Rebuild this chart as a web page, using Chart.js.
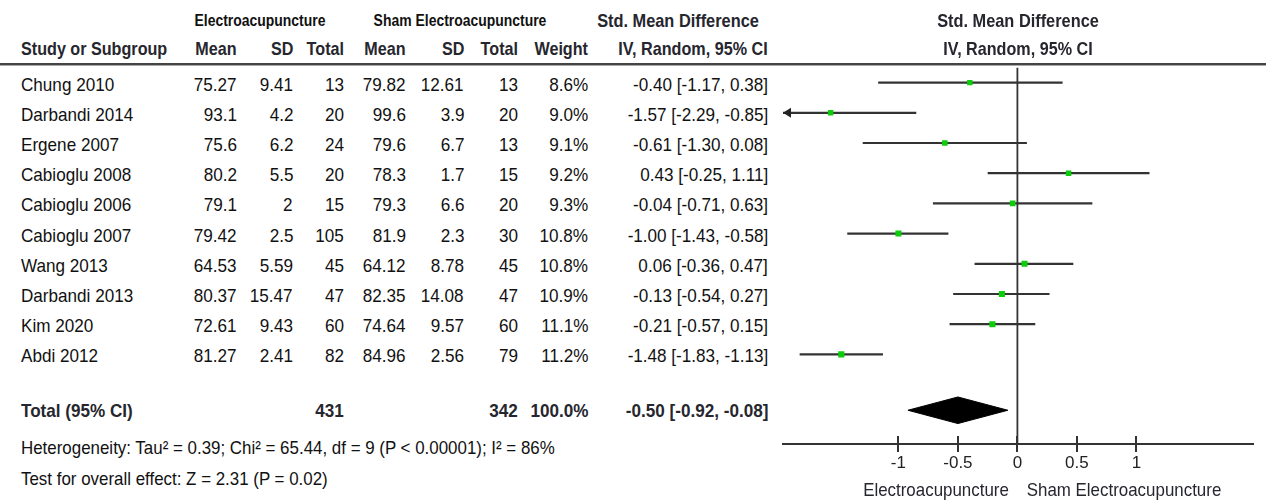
<!DOCTYPE html>
<html>
<head>
<meta charset="utf-8">
<script src="https://cdn.jsdelivr.net/npm/chart.js@4.4.0/dist/chart.umd.min.js"></script>
<style>
body{margin:0;background:#fff;}
#wrap{position:relative;width:1266px;height:500px;overflow:hidden;font-family:"Liberation Sans Narrow","Liberation Sans",Arial,sans-serif;color:#111;}
.t{position:absolute;white-space:nowrap;line-height:20px;height:20px;font-size:19px;}
.b{font-weight:bold;}
.hd{color:#26262e;}
#plot{position:absolute;left:770px;top:0;}
.hline{position:absolute;left:0;top:63px;width:1266px;height:2px;background:#444;border-bottom:1px solid #aaa;}
</style>
</head>
<body>
<div id="wrap">
  <div class="hline"></div>
  <canvas id="plot" width="496" height="500"></canvas>
</div>
<script>
// study data
var studies = ['Chung 2010','Darbandi 2014','Ergene 2007','Cabioglu 2008','Cabioglu 2006','Cabioglu 2007','Wang 2013','Darbandi 2013','Kim 2020','Abdi 2012']
var eMean = [75.27,93.1,75.6,80.2,79.1,79.42,64.53,80.37,72.61,81.27]
var eSD = [9.41,4.2,6.2,5.5,2,2.5,5.59,15.47,9.43,2.41]
var eTotal = [13,20,24,20,15,105,45,47,60,82]
var cMean = [79.82,99.6,79.6,78.3,79.3,81.9,64.12,82.35,74.64,84.96]
var cSD = [12.61,3.9,6.7,1.7,6.6,2.3,8.78,14.08,9.57,2.56]
var cTotal = [13,20,13,15,20,30,45,47,60,79]
var weight = [8.6,9.0,9.1,9.2,9.3,10.8,10.8,10.9,11.1,11.2]
var smd = [-0.40,-1.57,-0.61,0.43,-0.04,-1.00,0.06,-0.13,-0.21,-1.48]
var ciLow = [-1.17,-2.29,-1.30,-0.25,-0.71,-1.43,-0.36,-0.54,-0.57,-1.83]
var ciHigh = [0.38,-0.85,0.08,1.11,0.63,-0.58,0.47,0.27,0.15,-1.13]

// pooled result
var totalE = 431
var totalC = 342
var totalWeight = 100.0
var pooled = -0.50
var pooledLow = -0.92
var pooledHigh = -0.08
var totalRow = 10.85

var tickVals = [-1,-0.5,0,0.5,1]
var tickLabels = ['-1','-0.5','0','0.5','1']

Chart.defaults.font.family = '"Liberation Sans",Arial,sans-serif'

var wrap = document.getElementById('wrap')
function put(txt, x, y, align, cls, size, sx){
    var d = document.createElement('div')
    d.className = 't ' + (cls || '')
    d.textContent = txt
    if(size){ d.style.fontSize = size + 'px' }
    sx = sx || 0.9
    d.style.top = (y - 10) + 'px'
    if(align == 'r'){
        d.style.right = (1266 - x) + 'px'
        d.style.transformOrigin = 'right center'
        d.style.transform = 'scaleX(' + sx + ')'
    } else if(align == 'c'){
        d.style.left = x + 'px'
        d.style.transformOrigin = 'center center'
        d.style.transform = 'translateX(-50%) scaleX(' + sx + ')'
    } else {
        d.style.left = x + 'px'
        d.style.transformOrigin = 'left center'
        d.style.transform = 'scaleX(' + sx + ')'
    }
    wrap.appendChild(d)
}
function ci(m, l, h){
    return m.toFixed(2) + ' [' + l.toFixed(2) + ', ' + h.toFixed(2) + ']'
}

// arrow for CIs running off the left edge + tick marks above the axis
var extras = {
    id: 'extras',
    afterDatasetsDraw: function(chart){
        var ctx = chart.ctx, x = chart.scales.x, y = chart.scales.y
        ctx.save()
        ctx.fillStyle = '#222'
        for(var i=0;i<studies.length;i++){
            if(ciLow[i] < x.min){
                var py = y.getPixelForValue(i)
                ctx.beginPath()
                ctx.moveTo(x.left, py)
                ctx.lineTo(x.left + 8, py - 5)
                ctx.lineTo(x.left + 8, py + 5)
                ctx.closePath()
                ctx.fill()
            }
        }
        ctx.strokeStyle = '#333'
        ctx.lineWidth = 2
        for(var k=0;k<tickVals.length;k++){
            var px = Math.round(x.getPixelForValue(tickVals[k]))
            ctx.beginPath()
            ctx.moveTo(px, chart.chartArea.bottom - 8)
            ctx.lineTo(px, chart.chartArea.bottom)
            ctx.stroke()
        }
        ctx.restore()
    }
}

var datasets = []
datasets.push({
    type: 'scatter',
    data: smd.map(function(v,i){ return {x:v, y:i} }),
    pointStyle: 'rect',
    pointRadius: weight.map(function(w){ return Math.sqrt(w) * 1.3 }),
    backgroundColor: '#0ccc0c',
    borderWidth: 0
})
datasets.push({
    type: 'line',
    data: [{x:pooledLow,y:totalRow},{x:pooled,y:totalRow-0.44},{x:pooledHigh,y:totalRow},{x:pooled,y:totalRow+0.44},{x:pooledLow,y:totalRow}],
    borderColor: '#000',
    backgroundColor: '#000',
    borderWidth: 1,
    pointRadius: 0,
    fill: 'shape'
})
for(var i=0;i<studies.length;i++){
    datasets.push({
        type: 'line',
        data: [{x:ciLow[i],y:i},{x:ciHigh[i],y:i}],
        borderColor: '#333',
        borderWidth: 2.2,
        pointRadius: 0
    })
}
datasets.push({
    type: 'line',
    data: [{x:0,y:-0.49},{x:0,y:11.967}],
    borderColor: '#333',
    borderWidth: 1.8,
    pointRadius: 0
})

var chart = new Chart('plot', {
    type: 'scatter',
    data: {datasets: datasets},
    options: {
        responsive: false,
        animation: false,
        devicePixelRatio: 1,
        layout: {padding: {left: 13, right: 13, top: 0, bottom: 0}},
        plugins: {legend: {display: false}, tooltip: {enabled: false}},
        scales: {
            x: {
                type: 'linear',
                min: -1.97,
                max: 1.98,
                afterFit: function(s){ s.height = 56 },
                afterBuildTicks: function(s){ s.ticks = tickVals.map(function(v){ return {value: v} }) },
                ticks: {
                    font: {size: 17},
                    color: '#222',
                    padding: 1,
                    autoSkip: false,
                    maxRotation: 0,
                    callback: function(v){ return tickLabels[tickVals.indexOf(v)] }
                },
                grid: {drawOnChartArea: false, tickLength: 8, color: '#333', lineWidth: 2},
                border: {display: true, color: '#333', width: 2}
            },
            y: {
                type: 'linear',
                reverse: true,
                min: -2.59,
                max: 11.967,
                display: false
            }
        }
    },
    plugins: [extras]
})

// table text, rows placed with the chart's own y scale
var ys = chart.scales.y
var colE = [237, 293, 344], colC = [406, 464, 518], colW = 588, colCI = 768

put('Electroacupuncture', 260, 21, 'c', 'b', 17, 0.82)
put('Sham Electroacupuncture', 460, 21, 'c', 'b', 17, 0.82)
put('Std. Mean Difference', 678, 21, 'c', 'b hd', 19, 0.86)
put('Std. Mean Difference', 1018, 21, 'c', 'b hd', 19, 0.86)
var hy = 49
put('Study or Subgroup', 21, hy, 'l', 'b hd', 19, 0.85)
put('Mean', colE[0], hy, 'r', 'b hd', 19, 0.85)
put('SD', colE[1], hy, 'r', 'b hd', 19, 0.85)
put('Total', colE[2], hy, 'r', 'b hd', 19, 0.85)
put('Mean', colC[0], hy, 'r', 'b hd', 19, 0.85)
put('SD', colC[1], hy, 'r', 'b hd', 19, 0.85)
put('Total', colC[2], hy, 'r', 'b hd', 19, 0.85)
put('Weight', colW, hy, 'r', 'b hd', 19, 0.85)
put('IV, Random, 95% CI', colCI, hy, 'r', 'b hd', 19, 0.85)
put('IV, Random, 95% CI', 1018, hy, 'c', 'b hd', 19, 0.85)

for(var i=0;i<studies.length;i++){
    var y = ys.getPixelForValue(i) + 2
    put(studies[i], 21, y, 'l')
    put(String(eMean[i]), colE[0], y, 'r')
    put(String(eSD[i]), colE[1], y, 'r')
    put(String(eTotal[i]), colE[2], y, 'r')
    put(String(cMean[i]), colC[0], y, 'r')
    put(String(cSD[i]), colC[1], y, 'r')
    put(String(cTotal[i]), colC[2], y, 'r')
    put(weight[i].toFixed(1) + '%', colW, y, 'r')
    put(ci(smd[i], ciLow[i], ciHigh[i]), colCI, y, 'r')
}
var ty = ys.getPixelForValue(totalRow) + 1
put('Total (95% CI)', 21, ty, 'l', 'b hd', 19, 0.9)
put(String(totalE), colE[2], ty, 'r', 'b hd', 19, 0.9)
put(String(totalC), colC[2], ty, 'r', 'b hd', 19, 0.9)
put(totalWeight.toFixed(1) + '%', colW, ty, 'r', 'b hd', 19, 0.9)
put(ci(pooled, pooledLow, pooledHigh), colCI, ty, 'r', 'b hd', 19, 0.9)
put('Heterogeneity: Tau\u00b2 = 0.39; Chi\u00b2 = 65.44, df = 9 (P < 0.00001); I\u00b2 = 86%', 21, 448, 'l', '', 19, 0.89)
put('Test for overall effect: Z = 2.31 (P = 0.02)', 21, 479, 'l', '', 19, 0.89)
put('Electroacupuncture', 936, 490, 'c', 'hd', 19, 0.89)
put('Sham Electroacupuncture', 1124, 490, 'c', 'hd', 19, 0.89)
</script>
</body>
</html>
